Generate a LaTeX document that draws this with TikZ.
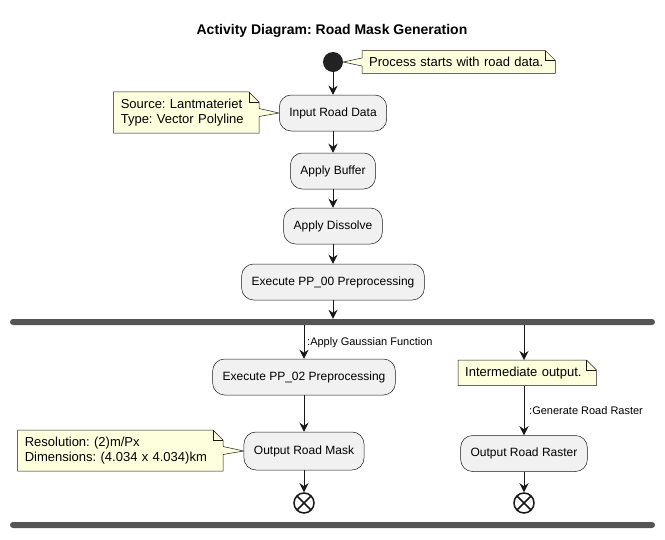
\documentclass[tikz,border=0pt]{standalone}
\usepackage{fontspec}
\setmainfont{Liberation Sans}
\frenchspacing
\usetikzlibrary{arrows.meta}
\definecolor{linec}{HTML}{181818}
\definecolor{actfill}{HTML}{F1F1F1}
\definecolor{notefill}{HTML}{FEFFDD}
\definecolor{barcol}{HTML}{555555}
\definecolor{startcol}{HTML}{222222}
\pgfdeclarelayer{background}
\pgfdeclarelayer{canvas}
\pgfsetlayers{canvas,background,main}
\begin{document}
\begin{tikzpicture}[x=1pt,y=-1pt,
  act/.style={draw=linec, fill=actfill, line width=0.5pt, rounded corners=12pt,
    minimum height=36pt, inner xsep=10pt, font=\fontsize{12}{14}\selectfont},
  notetext/.style={align=left, font=\fontsize{13}{15.5}\selectfont, inner xsep=7pt, inner ysep=6.5pt},
  noteshape/.style={fill=notefill, draw=linec, line width=0.5pt, line join=miter},
  flow/.style={draw=linec, line width=1pt, -{Stealth[length=9pt,width=9pt,inset=3pt]}},
  lbl/.style={font=\fontsize{11}{13}\selectfont, inner sep=1pt, anchor=west},
  bar/.style={fill=barcol, rounded corners=3pt, minimum width=645pt, minimum height=6pt, inner sep=0pt},
  endc/.style={circle, draw=linec, fill=white, line width=1.5pt, minimum size=20pt, inner sep=0pt}
]
\useasboundingbox (0,0) rectangle (665,539);
\begin{pgfonlayer}{canvas}
\fill[white] (0,0) rectangle (665,539);
\end{pgfonlayer}

% title
\node[font=\bfseries\fontsize{14}{16}\selectfont] (title) at (332,31) {Activity Diagram: Road Mask Generation};

% start
\node[circle, fill=startcol, minimum size=20pt, inner sep=0pt] (start) at (333,62) {};
\node[notetext, text width=179pt, anchor=west] (n1) at (362,62) {Process starts with road data.};

% main column
\node[act] (input) at (333,113) {Input Road Data};
\node[notetext, text width=131pt, anchor=east] (n2) at (259,112.5) {Source: Lantmateriet\\Type: Vector Polyline};
\node[act] (buffer) at (333,171) {Apply Buffer};
\node[act] (dissolve) at (333,226) {Apply Dissolve};
\node[act] (pp00) at (333,282) {Execute PP\_00 Preprocessing};

\node[bar] (fork) at (332.5,322) {};

% left branch
\node[act] (pp02) at (304,377) {Execute PP\_02 Preprocessing};
\node[act, minimum height=38pt] (mask) at (304,451) {Output Road Mask};
\node[notetext, text width=191pt, anchor=east] (n3) at (223,450.5) {Resolution: (2)m/Px\\Dimensions: (4.034 x 4.034)km};
\node[endc] (end1) at (304,503) {};
\draw[linec, line width=1.5pt] ([shift={(-7,-7)}]end1.center) -- ([shift={(7,7)}]end1.center)
  ([shift={(-7,7)}]end1.center) -- ([shift={(7,-7)}]end1.center);

% right branch
\node[notetext, text width=124pt, anchor=north west] (n4) at (458,360) {Intermediate output.};
\node[act] (raster) at (524,453.5) {Output Road Raster};
\node[endc] (end2) at (524,503) {};
\draw[linec, line width=1.5pt] ([shift={(-7,-7)}]end2.center) -- ([shift={(7,7)}]end2.center)
  ([shift={(-7,7)}]end2.center) -- ([shift={(7,-7)}]end2.center);

\node[bar] (join) at (332.5,525) {};

% note shapes
\begin{pgfonlayer}{background}
\path[noteshape] (n1.north west) -- ([xshift=-10pt]n1.north east) -- ([yshift=-10pt]n1.north east)
  -- (n1.south east) -- (n1.south west) -- ([yshift=-4pt]n1.west) -- (start.east) -- ([yshift=4pt]n1.west) -- cycle;
\path[noteshape] (n2.north west) -- ([xshift=-10pt]n2.north east) -- ([yshift=-10pt]n2.north east)
  -- ([yshift=4pt]n2.east) -- (input.west) -- ([yshift=-4pt]n2.east)
  -- (n2.south east) -- (n2.south west) -- cycle;
\path[noteshape] (n3.north west) -- ([xshift=-10pt]n3.north east) -- ([yshift=-10pt]n3.north east)
  -- ([yshift=4pt]n3.east) -- (mask.west) -- ([yshift=-4pt]n3.east)
  -- (n3.south east) -- (n3.south west) -- cycle;
\path[noteshape] (n4.north west) -- ([xshift=-10pt]n4.north east) -- ([yshift=-10pt]n4.north east)
  -- (n4.south east) -- (n4.south west) -- cycle;
\foreach \n in {n1,n2,n3,n4}{
  \draw[linec, line width=0.5pt] ([xshift=-10pt]\n.north east) -- ([xshift=-10pt,yshift=-10pt]\n.north east) -- ([yshift=-10pt]\n.north east);
}
\end{pgfonlayer}

% connectors
\draw[flow] (start) -- (input);
\draw[flow] (input) -- (buffer);
\draw[flow] (buffer) -- (dissolve);
\draw[flow] (dissolve) -- (pp00);
\draw[flow] (pp00) -- (pp00.south |- fork.north);
\draw[flow] (fork.south -| pp02.north) -- (pp02.north);
\node[lbl] (lblg) at (306,343) {:Apply Gaussian Function};
\draw[flow] (pp02) -- (mask);
\draw[flow] (mask) -- (end1);
\draw[flow] (fork.south -| raster.north) -- (raster.north |- n4.north);
\draw[flow] (raster.north |- n4.south) -- (raster.north);
\node[lbl] (lblr) at (528,411) {:Generate Road Raster};
\draw[flow] (raster) -- (end2);
\end{tikzpicture}
\end{document}
